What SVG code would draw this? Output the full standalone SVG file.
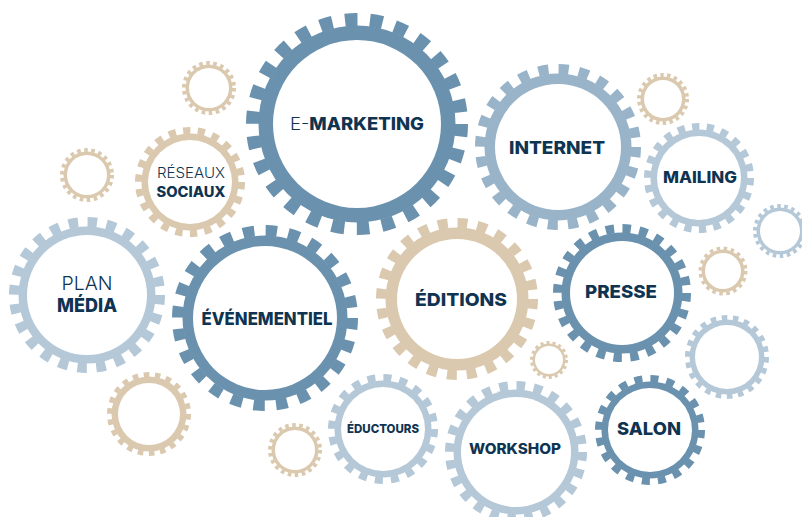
<svg xmlns="http://www.w3.org/2000/svg" width="802" height="517" viewBox="0 0 802 517">
  <style>
    .t { fill: none; }
    .h { fill: #ffffff; }
    .dk .t { stroke: #6a91ad; } .dk .b { fill: #6a91ad; }
    .md .t { stroke: #99b4c9; } .md .b { fill: #99b4c9; }
    .lt .t { stroke: #b4c8d8; } .lt .b { fill: #b4c8d8; }
    .tn .t { stroke: #dac9ae; } .tn .b { fill: #dac9ae; }
    text { font-family: Inter, "Liberation Sans", sans-serif; fill: #0f3451; text-anchor: middle; }
    .bd { font-weight: 800; }
    .li { font-weight: 300; }
  </style>

  <rect width="802" height="517" fill="#ffffff"/>

  <!-- Each gear: toothed ring (dashed stroke), solid body, white hub -->
  <g id="gear-small-1" class="tn">
    <circle class="t" cx="209" cy="88" r="25" stroke-width="4" stroke-dasharray="3.570 3.570"/>
    <circle class="b" cx="209" cy="88" r="23.5"/>
    <circle class="h" cx="209" cy="88" r="20"/>
  </g>
  <g id="gear-small-2" class="tn">
    <circle class="t" cx="87" cy="175" r="25" stroke-width="4" stroke-dasharray="3.570 3.570"/>
    <circle class="b" cx="87" cy="175" r="23.5"/>
    <circle class="h" cx="87" cy="175" r="20"/>
  </g>
  <g id="gear-small-3" class="tn">
    <circle class="t" cx="663" cy="99" r="24" stroke-width="4" stroke-dasharray="3.427 3.427"/>
    <circle class="b" cx="663" cy="99" r="22.5"/>
    <circle class="h" cx="663" cy="99" r="19"/>
  </g>
  <g id="gear-small-4" class="lt">
    <circle class="t" cx="780" cy="231" r="25" stroke-width="4" stroke-dasharray="3.570 3.570"/>
    <circle class="b" cx="780" cy="231" r="23.5"/>
    <circle class="h" cx="780" cy="231" r="20"/>
  </g>
  <g id="gear-small-5" class="tn">
    <circle class="t" cx="723" cy="271" r="22.75" stroke-width="3.5" stroke-dasharray="3.574 3.574"/>
    <circle class="b" cx="723" cy="271" r="21.5"/>
    <circle class="h" cx="723" cy="271" r="18"/>
  </g>
  <g id="gear-small-6" class="lt">
    <circle class="t" cx="727" cy="357" r="39.5" stroke-width="5" stroke-dasharray="5.641 5.641"/>
    <circle class="b" cx="727" cy="357" r="37.5"/>
    <circle class="h" cx="727" cy="357" r="32"/>
  </g>
  <g id="gear-small-7" class="tn">
    <circle class="t" cx="549" cy="360" r="17.5" stroke-width="3" stroke-dasharray="3.054 3.054"/>
    <circle class="b" cx="549" cy="360" r="16.5"/>
    <circle class="h" cx="549" cy="360" r="14"/>
  </g>
  <g id="gear-small-8" class="tn">
    <circle class="t" cx="295" cy="450" r="25" stroke-width="4" stroke-dasharray="3.570 3.570"/>
    <circle class="b" cx="295" cy="450" r="23.5"/>
    <circle class="h" cx="295" cy="450" r="20"/>
  </g>
  <g id="gear-small-9" class="tn">
    <circle class="t" cx="149" cy="414" r="39.5" stroke-width="5" stroke-dasharray="5.641 5.641"/>
    <circle class="b" cx="149" cy="414" r="37.5"/>
    <circle class="h" cx="149" cy="414" r="31"/>
  </g>

  <g id="e-marketing" class="dk">
    <circle class="t" cx="357" cy="124" r="104.5" stroke-width="13" stroke-dasharray="12.627 12.627"/>
    <circle class="b" cx="357" cy="124" r="98.5"/>
    <circle class="h" cx="357" cy="124" r="84"/>
    <text x="357" y="130" font-size="17" textLength="134" lengthAdjust="spacingAndGlyphs"><tspan class="li">E-</tspan><tspan class="bd">MARKETING</tspan></text>
  </g>

  <g id="internet" class="md">
    <circle class="t" cx="558" cy="147" r="78" stroke-width="10" stroke-dasharray="10.210 10.210"/>
    <circle class="b" cx="558" cy="147" r="73.5"/>
    <circle class="h" cx="558" cy="147" r="63"/>
    <text class="bd" x="557" y="154" font-size="18" textLength="96" lengthAdjust="spacingAndGlyphs">INTERNET</text>
  </g>

  <g id="mailing" class="lt">
    <circle class="t" cx="699" cy="178" r="51.5" stroke-width="7" stroke-dasharray="7.354 7.354"/>
    <circle class="b" cx="699" cy="178" r="48.5"/>
    <circle class="h" cx="699" cy="178" r="42"/>
    <text class="bd" x="700" y="183" font-size="16" textLength="74" lengthAdjust="spacingAndGlyphs">MAILING</text>
  </g>

  <g id="reseaux-sociaux" class="tn">
    <circle class="t" cx="190" cy="182" r="51.5" stroke-width="7" stroke-dasharray="7.354 7.354"/>
    <circle class="b" cx="190" cy="182" r="48.5"/>
    <circle class="h" cx="190" cy="182" r="42"/>
    <text class="li" x="191" y="178" font-size="14" textLength="68" lengthAdjust="spacingAndGlyphs">RÉSEAUX</text>
    <text class="bd" x="191" y="197" font-size="14" textLength="69" lengthAdjust="spacingAndGlyphs">SOCIAUX</text>
  </g>

  <g id="plan-media" class="lt">
    <circle class="t" cx="87" cy="295" r="73" stroke-width="10" stroke-dasharray="9.556 9.556"/>
    <circle class="b" cx="87" cy="295" r="68.5"/>
    <circle class="h" cx="87" cy="295" r="60"/>
    <text class="li" x="87" y="290" font-size="19" textLength="51" lengthAdjust="spacingAndGlyphs">PLAN</text>
    <text class="bd" x="87" y="312" font-size="19" textLength="60" lengthAdjust="spacingAndGlyphs">MÉDIA</text>
  </g>

  <g id="evenementiel" class="dk">
    <circle class="t" cx="265" cy="318" r="87.5" stroke-width="11" stroke-dasharray="11.454 11.454"/>
    <circle class="b" cx="265" cy="318" r="82.5"/>
    <circle class="h" cx="265" cy="318" r="72"/>
    <text class="bd" x="267" y="325" font-size="17" textLength="131" lengthAdjust="spacingAndGlyphs">ÉVÉNEMENTIEL</text>
  </g>

  <g id="editions" class="tn">
    <circle class="t" cx="457" cy="299" r="76" stroke-width="10" stroke-dasharray="9.948 9.948"/>
    <circle class="b" cx="457" cy="299" r="71.5"/>
    <circle class="h" cx="457" cy="299" r="60"/>
    <text class="bd" x="461" y="306" font-size="18" textLength="92" lengthAdjust="spacingAndGlyphs">ÉDITIONS</text>
  </g>

  <g id="presse" class="dk">
    <circle class="t" cx="622" cy="293" r="64.5" stroke-width="9" stroke-dasharray="8.443 8.443"/>
    <circle class="b" cx="622" cy="293" r="60.5"/>
    <circle class="h" cx="622" cy="293" r="52"/>
    <text class="bd" x="621" y="298" font-size="18" textLength="72" lengthAdjust="spacingAndGlyphs">PRESSE</text>
  </g>

  <g id="eductours" class="lt">
    <circle class="t" cx="383" cy="429" r="51.5" stroke-width="7" stroke-dasharray="8.090 8.090"/>
    <circle class="b" cx="383" cy="429" r="48.5"/>
    <circle class="h" cx="383" cy="429" r="42"/>
    <text class="bd" x="383" y="433" font-size="12" textLength="72" lengthAdjust="spacingAndGlyphs">ÉDUCTOURS</text>
  </g>

  <g id="workshop" class="lt">
    <circle class="t" cx="516" cy="452" r="66.5" stroke-width="9" stroke-dasharray="8.705 8.705"/>
    <circle class="b" cx="516" cy="452" r="62.5"/>
    <circle class="h" cx="516" cy="452" r="55"/>
    <text class="bd" x="515" y="454" font-size="14.5" textLength="92" lengthAdjust="spacingAndGlyphs">WORKSHOP</text>
  </g>

  <g id="salon" class="dk">
    <circle class="t" cx="650" cy="430" r="51.5" stroke-width="7" stroke-dasharray="8.090 8.090"/>
    <circle class="b" cx="650" cy="430" r="48.5"/>
    <circle class="h" cx="650" cy="430" r="42"/>
    <text class="bd" x="649" y="435" font-size="18" textLength="64" lengthAdjust="spacingAndGlyphs">SALON</text>
  </g>
</svg>
